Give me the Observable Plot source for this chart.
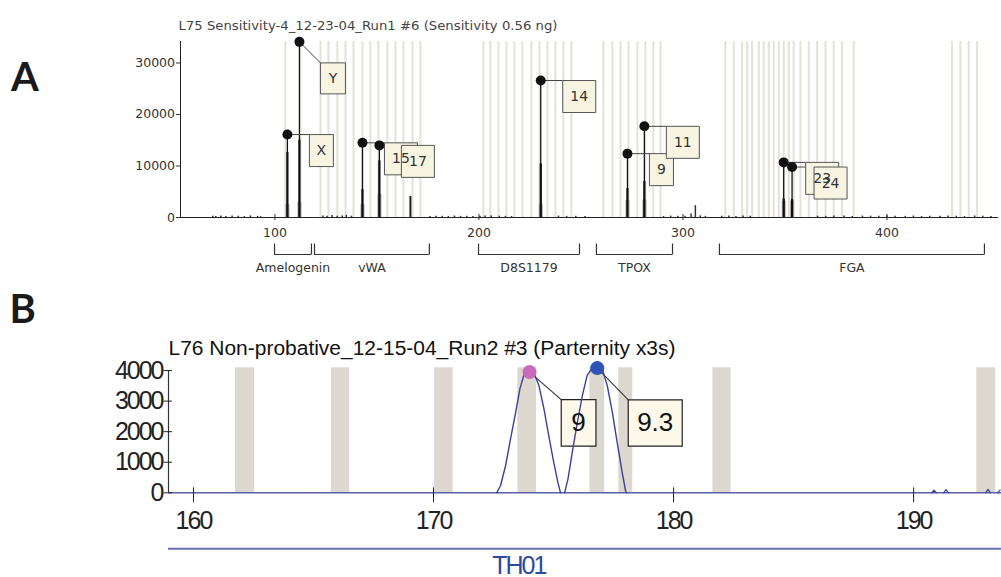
<!DOCTYPE html>
<html><head><meta charset="utf-8">
<script src="https://cdn.jsdelivr.net/npm/d3@7"></script>
<script src="https://cdn.jsdelivr.net/npm/@observablehq/plot@0.6"></script>
<style>
body{margin:0;background:#fff;}
#wrap{position:relative;width:1001px;height:577px;overflow:hidden;background:#fff;}
#a,#b{position:absolute;left:0;}
#a{top:0;} #b{top:280px;}
</style></head>
<body><div id="wrap"><div id="a"></div><div id="b"></div></div>
<script>
// ---------- Panel A data ----------
const titleA = "L75 Sensitivity-4_12-23-04_Run1 #6 (Sensitivity 0.56 ng)";
const xDomainA = [53.7, 454.7];
const yTopA = 34170;
const ticksXA = [100, 200, 300, 400];
const ticksYA = [0, 10000, 20000, 30000];
const lociNames = ["Amelogenin", "vWA", "D8S1179", "TPOX", "FGA"];
const lociStart = [99.8, 119.4, 199.8, 257.6, 317.9];
const lociEnd   = [117.9, 175.7, 249.3, 294.9, 447.8];
const binsA = [105.1, 112.5,
  122.3, 126.2, 130.6, 134.6, 138.5, 142.9, 146.8, 150.7, 155.1, 159.1, 163.0, 167.4, 171.3,
  202.2, 205.6, 209.6, 213.5, 217.4, 221.3, 225.7, 229.7, 233.6, 237.5, 241.4, 245.3,
  261.0, 265.4, 269.4, 273.3, 277.7, 281.6, 285.5, 289.0,
  320.8, 324.9, 329.0, 331.5, 333.9, 337.2, 339.6, 342.1, 344.5, 347.0, 349.4, 351.9, 354.3,
  357.6, 361.7, 365.8, 369.9, 373.9, 378.0, 383.7,
  431.9, 436.0, 440.1, 444.2];
const alleleA = ["X", "Y", "15", "17", "14", "9", "11", "23", "24"];
const alleleSizeA = [106.1, 112.0, 142.9, 151.2, 230.3, 272.8, 281.1, 349.4, 353.5];
const alleleHeightA = [16100, 34100, 14500, 14000, 26600, 12400, 17700, 10700, 9800];
const traceHeightA = [12600, 15000, 5400, 11000, 10400, 5600, 7000, 3600, 3500];
const baseHeightA = [2500, 3000, 2500, 4500, 2500, 3300, 3400, 3200, 3200];
const stutterSizeA = [166.4];
const stutterHeightA = [4100];
const noiseSizeA = [
  69.5, 71.0, 73.5, 76.0, 79.0, 82.0, 85.0, 88.0, 91.5, 93.0,
  123.5, 125.5, 128.0, 130.5, 133.0, 135.0, 137.5,
  176.0, 179.0, 182.0, 185.0, 188.0, 191.0, 194.0, 197.0, 200.5,
  203.0, 206.0, 210.0, 213.0, 216.0,
  239.0, 243.0, 247.5, 252.0,
  290.5, 294.0, 297.5, 301.0, 304.0, 306.1, 308.5, 311.0,
  319.0, 322.5, 326.0, 329.5, 333.0,
  366.0, 370.0, 374.0, 379.0, 383.0, 388.0, 392.0, 396.0, 400.0, 404.0, 409.0,
  413.0, 417.0, 421.0, 426.0, 430.0, 434.0, 438.0, 443.0, 447.0, 451.0];
const noiseHeightA = [
  250, 200, 300, 180, 280, 250, 180, 320, 220, 150,
  280, 250, 380, 220, 300, 400, 250,
  180, 220, 250, 180, 280, 220, 250, 180, 220,
  300, 280, 250, 220, 180,
  280, 220, 250, 180,
  180, 280, 250, 220, 700, 2300, 320, 220,
  250, 280, 180, 300, 220,
  250, 220, 280, 300, 180, 280, 250, 220, 300, 250, 220,
  280, 180, 250, 220, 280, 250, 180, 300, 220, 180];

// ---------- Panel B data ----------
const titleB = "L76 Non-probative_12-15-04_Run2 #3 (Parternity x3s)";
const xDomainB = [158.96, 193.66];
const yTopB = 4090;
const ticksXB = [160, 170, 180, 190];
const ticksYB = [0, 1000, 2000, 3000, 4000];
const binStartB = [161.75, 165.74, 170.05, 173.51, 176.51, 177.72, 181.64, 192.63];
const binEndB   = [162.55, 166.51, 170.82, 174.29, 177.13, 178.30, 182.40, 193.42];
const peak9Size   = [172.63, 172.79, 173.00, 173.21, 173.42, 173.60, 173.76, 173.97, 174.18, 174.39, 174.60, 174.80, 175.01, 175.18, 175.29];
const peak9Height = [0, 230, 885, 1770, 2620, 3410, 3840, 3990, 3940, 3510, 2750, 1870, 990, 340, 0];
const peak93Size   = [175.46, 175.60, 175.78, 175.99, 176.20, 176.40, 176.61, 176.82, 177.03, 177.24, 177.45, 177.65, 177.86, 178.00, 178.04];
const peak93Height = [0, 450, 1320, 2300, 3180, 3840, 4080, 4120, 4050, 3500, 2630, 1650, 660, 60, 0];
const alleleB = ["9", "9.3"];
const alleleSizeB = [174.0, 176.82];
const alleleHeightB = [3950, 4080];
const alleleColorB = ["#c86ab9", "#2f53b7"];
const noiseSizeB = [190.75, 190.85, 190.95, 191.25, 191.35, 191.45, 193.0, 193.1, 193.2, 193.5, 193.6];
const noiseHeightB = [0, 90, 0, 0, 100, 0, 0, 110, 0, 0, 90];
const lociBNames = ["TH01"];
const lociBCenter = [173.55];

// ---------- helpers ----------
function hasFont(f) {
  const c = document.createElement("canvas").getContext("2d");
  const s = "0123456789ABCDEFmwil";
  c.font = "40px monospace"; const a = c.measureText(s).width;
  c.font = `40px "${f}", monospace`; const b = c.measureText(s).width;
  return Math.abs(a - b) > 0.5;
}
const narrow = hasFont("Liberation Sans Narrow");
const fontNumB = narrow ? '"Liberation Sans Narrow", "Liberation Sans", sans-serif' : '"Liberation Sans", Arial, sans-serif';
const numSizeB = narrow ? 26 : 25;
const lsB = narrow ? "0px" : "-2px";
const fontA = '"DejaVu Sans", Verdana, sans-serif';

const seg = (x1, y1, x2, y2) => ({draw(ctx) { ctx.moveTo(x1, y1); ctx.lineTo(x2, y2); }});
const box = (x0, y0, w, h) => ({draw(ctx) { ctx.moveTo(x0, y0); ctx.lineTo(x0 + w, y0); ctx.lineTo(x0 + w, y0 + h); ctx.lineTo(x0, y0 + h); ctx.closePath(); }});

// ---------- tables ----------
const peaksA = alleleA.map((label, i) => ({label, size: alleleSizeA[i], height: alleleHeightA[i], trace: traceHeightA[i], base: baseHeightA[i]}));
const noiseA = noiseSizeA.map((s, i) => ({size: s, height: noiseHeightA[i]}));
const stutterA = stutterSizeA.map((s, i) => ({size: s, height: stutterHeightA[i]}));
const loci = lociNames.map((name, i) => ({name, start: lociStart[i], end: lociEnd[i]}));
const lociEdges = loci.flatMap(d => [d.start, d.end]);

function geomA(d) {
  if (d.label === "Y") return {cx: 21, cy: 21, w: 25, h: 31};
  if (d.label.length === 1) return {cx: 22, cy: 0, w: 24, h: 32};
  return {cx: 22, cy: 0, w: 33, h: 32};
}
const connA = d => { const o = geomA(d); return Plot.dot([d], {x: "size", y: "height", symbol: seg(0, 0, o.cx, o.cy), fill: "none", stroke: "#444", strokeWidth: 1}); };
const boxA = d => { const o = geomA(d); return Plot.dot([d], {x: "size", y: "height", symbol: box(o.cx, o.cy, o.w, o.h), fill: "#f7f4e2", stroke: "#555", strokeWidth: 1}); };
const textA = d => { const o = geomA(d); return Plot.text([d], {x: "size", y: "height", text: "label", dx: o.cx + o.w / 2, dy: o.cy + o.h / 2, fontSize: 14, fill: "#333"}); };

const plotA = Plot.plot({
  width: 1001, height: 280,
  marginLeft: 180, marginRight: 3, marginTop: 41, marginBottom: 63,
  x: {domain: xDomainA, label: null},
  y: {domain: [0, yTopA], label: null},
  style: {fontFamily: fontA, fontSize: "12.5px", color: "#333", background: "white"},
  marks: [
    Plot.ruleX(binsA, {stroke: "#e6e1d8", strokeWidth: 2}),
    Plot.ruleX(noiseA, {x: "size", y: "height", stroke: "#333", strokeWidth: 1.5}),
    Plot.ruleX(peaksA, {x: "size", y: "base", stroke: "#aaa", strokeWidth: 4}),
    Plot.ruleX(peaksA, {x: "size", y: "trace", stroke: "#111", strokeWidth: 2.2}),
    Plot.ruleX(peaksA, {x: "size", y: "height", stroke: "#111", strokeWidth: 1.3}),
    Plot.ruleX(stutterA, {x: "size", y: "height", stroke: "#222", strokeWidth: 2}),
    Plot.ruleY([0], {stroke: "#222"}),
    Plot.ruleX([xDomainA[0]], {stroke: "#222"}),
    Plot.axisY({ticks: ticksYA, tickFormat: d => String(d), tickSize: 4, tickPadding: 1.5, label: null}),
    Plot.axisX({ticks: ticksXA, tickFormat: d => String(d), tickSize: 6, dy: -3, tickPadding: 8, label: null}),
    Plot.ruleY(loci, {x1: "start", x2: "end", y: 0, dy: 37, stroke: "#333", strokeWidth: 1.2}),
    Plot.dot(lociEdges, {x: d => d, y: 0, symbol: seg(0, 26, 0, 37), fill: "none", stroke: "#333", strokeWidth: 1.2}),
    Plot.text(loci, {x: d => (d.start + d.end) / 2, y: 0, dy: 54.5, lineAnchor: "bottom", text: "name", fill: "#333", fontSize: 12.5}),
    ...peaksA.map(connA),
    ...peaksA.map(boxA),
    ...peaksA.map(textA),
    Plot.dot(peaksA, {x: "size", y: "height", r: 5, fill: "#111"}),
    Plot.text([titleA], {text: d => d, frameAnchor: "top-left", textAnchor: "start", lineAnchor: "bottom", dx: -2, dy: -11.7, fontSize: 13, fill: "#444"}),
    Plot.text(["A"], {text: d => d, frameAnchor: "top-left", textAnchor: "start", lineAnchor: "bottom", dx: -169.5, dy: 49, fontSize: 40, fontWeight: "bold", fontFamily: "Lato, sans-serif", fill: "#1a1a1a"})
  ]
});
document.getElementById("a").appendChild(plotA);
d3.select(plotA).selectAll("text").filter(function () { return this.textContent === titleA; })
  .attr("textLength", 379).attr("lengthAdjust", "spacingAndGlyphs");

// ---------- Panel B ----------
const binsB = binStartB.map((s, i) => ({start: s, end: binEndB[i]}));
const traceB = [
  ...peak9Size.map((s, i) => ({allele: "9", size: s, height: peak9Height[i]})),
  ...peak93Size.map((s, i) => ({allele: "9.3", size: s, height: peak93Height[i]}))
];
const allelesB = alleleB.map((label, i) => ({label, size: alleleSizeB[i], height: alleleHeightB[i], color: alleleColorB[i]}));
const noiseB = noiseSizeB.map((s, i) => ({grp: Math.floor(i / 3), size: s, height: noiseHeightB[i]}));
const lociB = lociBNames.map((name, i) => ({name, center: lociBCenter[i]}));
const boxB = {"9": {cx: 31.7, cy: 27.6, w: 34.7, h: 46.4}, "9.3": {cx: 31, cy: 31.7, w: 54, h: 46.4}};

const plotB = Plot.plot({
  width: 1001, height: 297,
  marginLeft: 168, marginRight: 0, marginTop: 87.3, marginBottom: 84.7,
  x: {domain: xDomainB, label: null},
  y: {domain: [0, yTopB], label: null},
  style: {fontFamily: fontNumB, fontSize: numSizeB + "px", color: "#222", background: "white"},
  marks: [
    Plot.rect(binsB, {x1: "start", x2: "end", y1: 0, y2: yTopB, fill: "#dcd8cf"}),
    Plot.ruleY([0], {stroke: "#5c5fa8", strokeWidth: 1.5}),
    Plot.ruleX([xDomainB[0]], {y1: 0, y2: 4000, stroke: "#333", strokeWidth: 1.2}),
    Plot.axisY({ticks: ticksYB, tickFormat: d => String(d), tickSize: 8.5, dx: 4, tickPadding: 1.5, label: null}),
    Plot.axisX({ticks: ticksXB, tickFormat: d => String(d), tickSize: 15, dy: -5, tickPadding: 8, label: null}),
    ...allelesB.flatMap(d => {
      const o = boxB[d.label];
      return [
        Plot.dot([d], {x: "size", y: "height", symbol: seg(0, 0, o.cx, o.cy), fill: "none", stroke: "#333", strokeWidth: 1.1}),
        Plot.dot([d], {x: "size", y: "height", symbol: box(o.cx, o.cy, o.w, o.h), fill: "#fcf9ea", stroke: "#222", strokeWidth: 1.2})
      ];
    }),
    Plot.line(traceB, {x: "size", y: "height", z: "allele", stroke: "#3c409c", strokeWidth: 1.4}),
    Plot.line(noiseB, {x: "size", y: "height", z: "grp", stroke: "#3c409c", strokeWidth: 1.2}),
    ...allelesB.map(d => {
      const o = boxB[d.label];
      return Plot.text([d], {x: "size", y: "height", text: "label", dx: o.cx + o.w / 2, dy: o.cy + o.h / 2, fontSize: 26, fontFamily: '"Liberation Sans", Arial, sans-serif', fill: "#111"});
    }),
    Plot.dot(allelesB, {x: "size", y: "height", r: 7, fill: "color"}),
    Plot.ruleY([0], {dy: 56, stroke: "#6b6eb3", strokeWidth: 2}),
    Plot.text(lociB, {x: "center", y: 0, dy: 80.7, lineAnchor: "bottom", text: "name", fill: "#2d4a9e", fontSize: numSizeB}),
    Plot.text([titleB], {text: d => d, frameAnchor: "top-left", textAnchor: "start", lineAnchor: "bottom", dy: -13.3, fontSize: 20.5, fontFamily: '"Liberation Sans", Arial, sans-serif', fill: "#111"}),
    Plot.text(["B"], {text: d => d, frameAnchor: "top-left", textAnchor: "start", lineAnchor: "bottom", dx: -159, dy: -44.6, fontSize: 40, fontWeight: "bold", fontFamily: "Lato, sans-serif", fill: "#1a1a1a"})
  ]
});
document.getElementById("b").appendChild(plotB);
d3.select(plotB).selectAll("text").filter(function () { return this.textContent === titleB; })
  .attr("textLength", 507).attr("lengthAdjust", "spacingAndGlyphs");
d3.select(plotB).selectAll("text").filter(function () { return /^\d+$/.test(this.textContent) && this.textContent !== "9" || this.textContent === "TH01"; })
  .style("letter-spacing", lsB);
</script>
</body></html>
